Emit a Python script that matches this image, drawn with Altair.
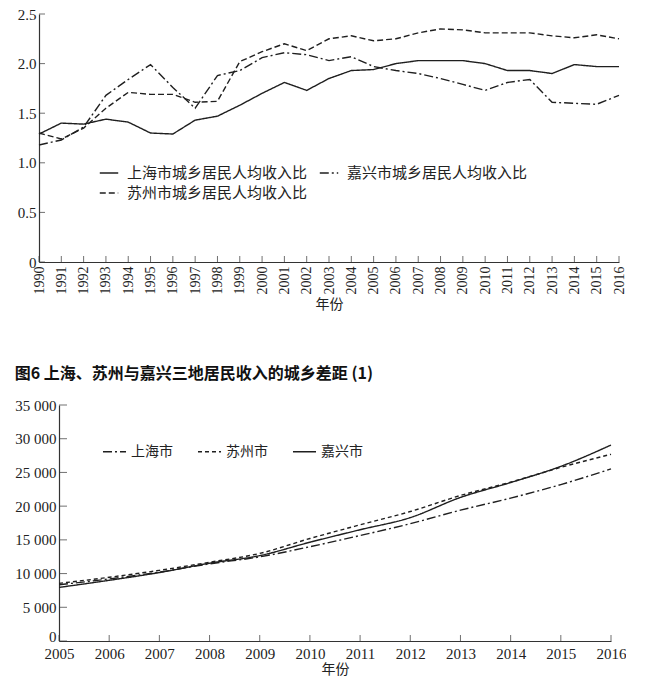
import altair as alt
import pandas as pd

# ---------------- data: chart 1 (urban/rural income ratio) ----------------
years1 = list(range(1990, 2017))
sh_ratio = [1.29, 1.40, 1.39, 1.44, 1.41, 1.30, 1.29, 1.43, 1.47, 1.58, 1.70, 1.81, 1.73, 1.85,
            1.93, 1.94, 2.00, 2.03, 2.03, 2.03, 2.00, 1.93, 1.93, 1.90, 1.99, 1.97, 1.97]
sz_ratio = [1.30, 1.24, 1.35, 1.55, 1.71, 1.69, 1.69, 1.61, 1.62, 2.02, 2.12, 2.20, 2.13, 2.25,
            2.28, 2.23, 2.25, 2.31, 2.35, 2.34, 2.31, 2.31, 2.31, 2.28, 2.26, 2.29, 2.25]
jx_ratio = [1.18, 1.23, 1.36, 1.68, 1.84, 1.99, 1.76, 1.55, 1.88, 1.93, 2.06, 2.11, 2.09, 2.03,
            2.07, 1.97, 1.93, 1.90, 1.85, 1.79, 1.73, 1.81, 1.84, 1.61, 1.60, 1.59, 1.68]
series1 = ["上海市城乡居民人均收入比", "嘉兴市城乡居民人均收入比", "苏州市城乡居民人均收入比"]
yticks1 = [0, 0.5, 1.0, 1.5, 2.0, 2.5]

# ---------------- data: chart 2 (rural per-capita income) ----------------
years2 = list(range(2005, 2017))
sh_income = [8340, 9210, 10220, 11440, 12480, 13980, 15640, 17400, 19400, 21190, 23200, 25520]
sz_income = [8550, 9450, 10480, 11680, 12990, 15200, 17230, 19200, 21580, 23560, 25750, 27690]
jx_income = [7950, 9000, 10150, 11540, 12660, 14650, 16500, 18300, 21290, 23500, 25900, 29060]
cities2 = ["上海市", "苏州市", "嘉兴市"]
yticks2 = [0, 5000, 10000, 15000, 20000, 25000, 30000, 35000]

title_text = "图6 上海、苏州与嘉兴三地居民收入的城乡差距 (1)"

INK = "#1f1f1f"
SERIF = "Liberation Serif"
CJK = "Noto Sans CJK SC"

df1 = pd.concat([
    pd.DataFrame({"year": years1, "ratio": sh_ratio, "series": series1[0]}),
    pd.DataFrame({"year": years1, "ratio": jx_ratio, "series": series1[1]}),
    pd.DataFrame({"year": years1, "ratio": sz_ratio, "series": series1[2]}),
])
df2 = pd.concat([
    pd.DataFrame({"yr": years2, "income": sh_income, "city": cities2[0]}),
    pd.DataFrame({"yr": years2, "income": sz_income, "city": cities2[1]}),
    pd.DataFrame({"yr": years2, "income": jx_income, "city": cities2[2]}),
])

# ---------------- chart 1 ----------------
sx1 = alt.Scale(domain=[1990, 2016], nice=False, zero=False)
sy1 = alt.Scale(domain=[0, 2.5], nice=False)
ax1 = alt.Axis(values=years1, format="d", labelAngle=270, title="年份", labelFlush=False,
               ticks=False, tickSize=0, labelPadding=4, titlePadding=3,
               labelFont=SERIF, labelFontSize=14,
               titleFont=CJK, titleFontSize=14, titleFontWeight="normal")
ay1 = alt.Axis(values=yticks1, title=None, ticks=False, tickSize=0, labelPadding=3,
               labelFont=SERIF, labelFontSize=15, labelFlush=False,
               labelExpr="datum.value == 0 ? '0' : format(datum.value, '.1f')")

lines1 = alt.Chart(df1).mark_line(color=INK, strokeWidth=1.4).encode(
    x=alt.X("year:Q", scale=sx1, axis=ax1),
    y=alt.Y("ratio:Q", scale=sy1, axis=ay1),
    strokeDash=alt.StrokeDash(
        "series:N",
        scale=alt.Scale(domain=series1, range=[[1, 0], [9, 3, 2, 3], [6, 3]]),
        legend=alt.Legend(title=None, orient="none", legendX=60, legendY=149, columns=2,
                          direction="horizontal",
                          columnPadding=8, rowPadding=2, symbolType="stroke", symbolSize=340,
                          symbolStrokeWidth=1.4, symbolStrokeColor=INK, labelFont=CJK,
                          labelFontSize=15, labelColor="#222", labelOffset=8, labelLimit=0),
    ),
)
xt1 = alt.Chart(pd.DataFrame({"year": years1})).mark_tick(
    orient="vertical", size=6, thickness=1, yOffset=-3, color="#333"
).encode(x=alt.X("year:Q", scale=sx1, axis=ax1), y=alt.YDatum(0, axis=ay1))
yt1 = alt.Chart(pd.DataFrame({"ratio": yticks1})).mark_tick(
    orient="horizontal", size=6, thickness=1, xOffset=3, color="#333"
).encode(y=alt.Y("ratio:Q", scale=sy1, axis=ay1), x=alt.XDatum(1990, axis=ax1))

top = alt.layer(lines1, xt1, yt1).properties(width=580, height=248)

# ---------------- chart 2 ----------------
# plot area of the lower chart sits 20px to the right of the upper one
sx2 = alt.Scale(domain=[2005, 2016], nice=False, zero=False, range=[20, 572])
sy2 = alt.Scale(domain=[0, 35000], nice=False)
ax2 = alt.Axis(values=years2, format="d", labelAngle=0, title="年份", labelFlush=False,
               ticks=False, tickSize=0, labelPadding=5, titlePadding=1,
               labelFont=SERIF, labelFontSize=15,
               titleFont=CJK, titleFontSize=14, titleFontWeight="normal")
ay2 = alt.Axis(values=yticks2, title=None, ticks=False, tickSize=0, labelPadding=3, offset=-20,
               labelFont=SERIF, labelFontSize=15, labelFlush=False,
               labelBaseline={"condition": {"test": "datum.value == 0", "value": "alphabetic"},
                              "value": "middle"},
               labelExpr="replace(format(datum.value, ','), ',', ' ')")

lines2 = alt.Chart(df2).mark_line(color=INK, strokeWidth=1.4, interpolate="monotone").encode(
    x=alt.X("yr:Q", scale=sx2, axis=ax2),
    y=alt.Y("income:Q", scale=sy2, axis=ay2),
    strokeDash=alt.StrokeDash(
        "city:N",
        scale=alt.Scale(domain=cities2, range=[[9, 3, 2, 3], [4, 3], [1, 0]]),
        legend=alt.Legend(title=None, orient="none", legendX=63, legendY=34, direction="horizontal",
                          columnPadding=22, symbolType="stroke", symbolSize=530,
                          symbolStrokeWidth=1.4, symbolStrokeColor=INK, labelFont=CJK,
                          labelFontSize=14, labelColor="#222", labelOffset=4, labelLimit=0),
    ),
)
xt2 = alt.Chart(pd.DataFrame({"yr": years2})).mark_tick(
    orient="vertical", size=6, thickness=1, yOffset=-3, color="#333"
).encode(x=alt.X("yr:Q", scale=sx2, axis=ax2), y=alt.YDatum(0, axis=ay2))
yt2 = alt.Chart(pd.DataFrame({"income": yticks2})).mark_tick(
    orient="horizontal", size=8, thickness=1, xOffset=4, color="#333"
).encode(y=alt.Y("income:Q", scale=sy2, axis=ay2), x=alt.XDatum(2005, axis=ax2))

bottom = alt.layer(lines2, xt2, yt2).properties(
    width=572, height=236,
    title=alt.TitleParams(title_text, anchor="start", frame="bounds", font=CJK, fontSize=16,
                          fontWeight="bold", color="#111", offset=16),
)

chart = alt.concat(top, bottom, columns=1, spacing=55).resolve_scale(
    strokeDash="independent"
).resolve_legend(strokeDash="independent").properties(
    padding={"left": 6, "top": -1, "right": 0, "bottom": 0}
).configure_view(stroke=None).configure_axis(
    grid=False, domainColor="#333", domainWidth=1.2, labelColor="#222",
    labelFont=SERIF, labelFontSize=15, titleColor="#222"
)

chart.save("out.html", embed_options={"renderer": "svg", "actions": False})
